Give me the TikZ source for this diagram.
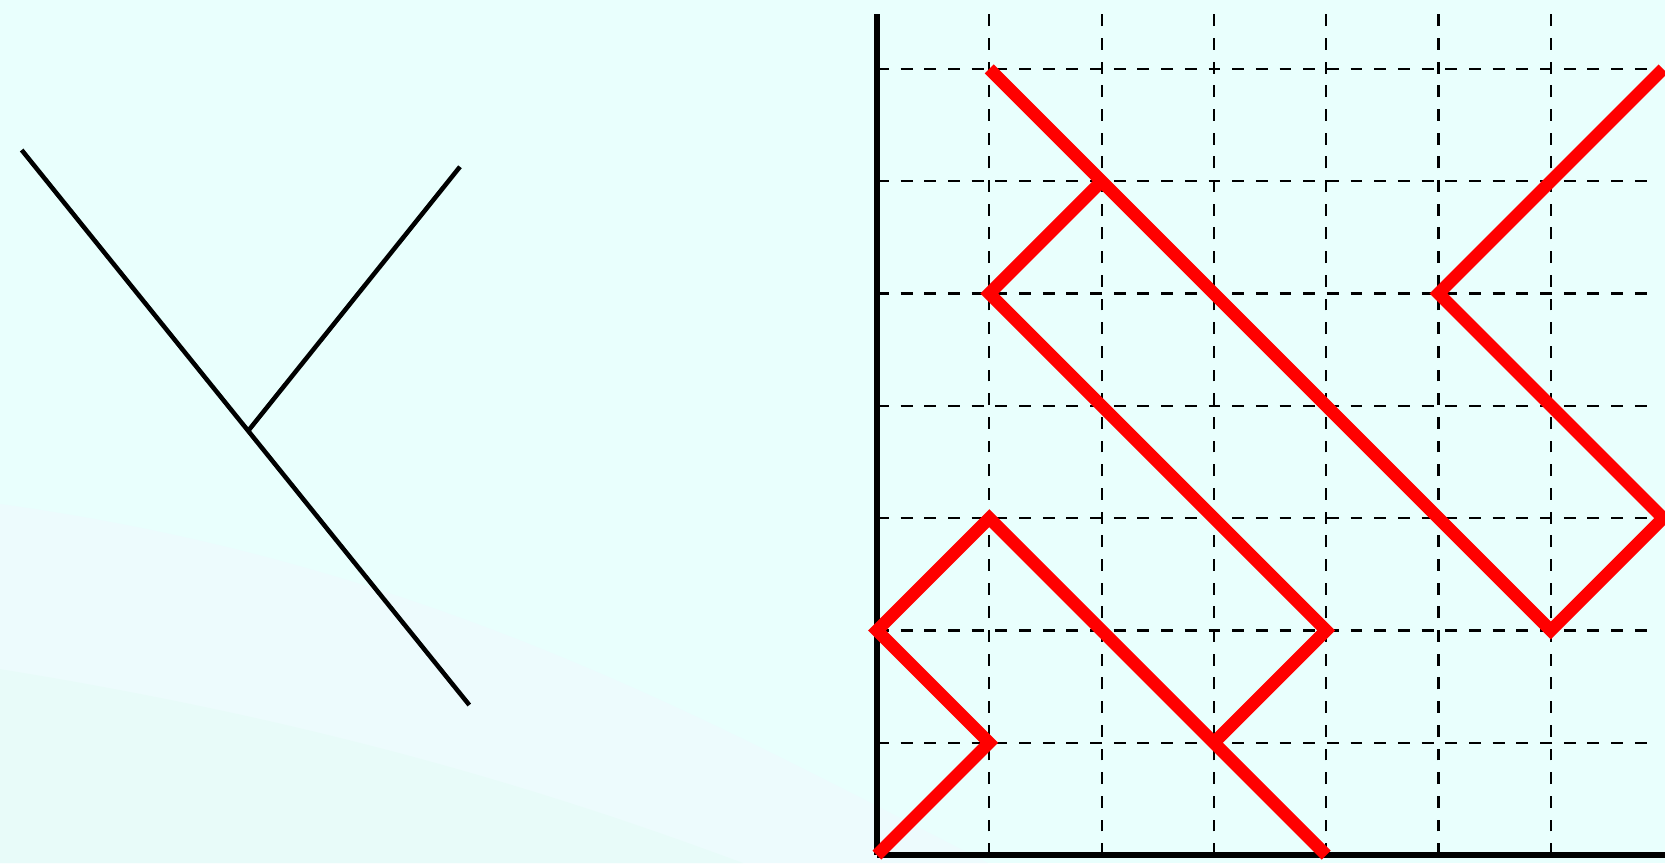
\documentclass[tikz,border=0pt]{standalone}
\usetikzlibrary{calc}
\definecolor{fondo}{RGB}{233,255,253}
\definecolor{fondoB}{RGB}{237,251,253}
\definecolor{fondoC}{RGB}{232,251,249}
\begin{document}
\begin{tikzpicture}[
        rejilla/.style={dashed, line width=0.55pt, black},
        eje/.style={line width=1.5pt, black},
        camino/.style={red, line width=3.2pt},
        rama/.style={line width=1.15pt, black}]
        % Fondo del dibujo
        \fill[fondo] (-7.809,-0.071) rectangle (7.017,7.614);
        \useasboundingbox (-7.809,-0.071) rectangle (7.017,7.614);
        \fill[fondoB] (-7.809,3.126) .. controls (-4,2.6) and (-1.5,1.2) .. (0.988,-0.071) -- (-7.809,-0.071) -- cycle;
        \fill[fondoC] (-7.809,1.656) .. controls (-5,1.2) and (-3,0.6) .. (-1.193,-0.071) -- (-7.809,-0.071) -- cycle;

        % Árbol de la izquierda
        \coordinate (hojaA) at (-7.616,6.278);
        \coordinate (raiz) at (-3.630,1.336);
        \coordinate (hojaB) at (-3.713,6.129);
        \coordinate (nudo) at ($(hojaA)!0.506!(raiz)$);
        \draw[rama] (hojaA) -- (raiz);
        \draw[rama] (nudo) -- (hojaB);

        % Rejilla punteada
        \foreach \x in {1,...,6}
            \draw[rejilla] (\x,0) -- (\x,7.49);
        \foreach \y in {1,...,7}
            \draw[rejilla] (0,\y) -- (6.95,\y);

        % Ejes
        \draw[eje] (0,0) -- (0,7.49);
        \draw[eje] (0,0) -- (7.02,0);

        % Caminos en rojo
        \draw[camino] (0,0) -- (1,1) -- (0,2) -- (1,3) -- (4,0);
        \draw[camino] (3,1) -- (4,2) -- (1,5) -- (2,6);
        \draw[camino] (1,7) -- (6,2) -- (7,3) -- (5,5) -- (7,7);
\end{tikzpicture}
\end{document}
